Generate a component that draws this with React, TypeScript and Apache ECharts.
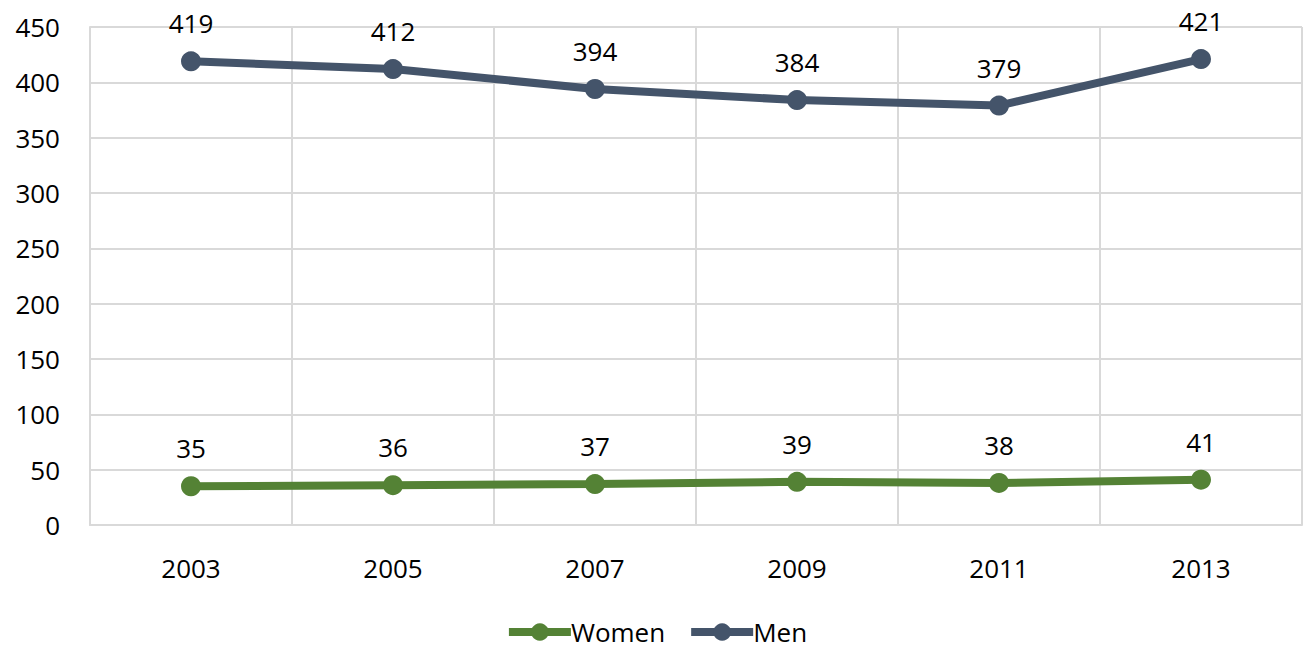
import React, { useEffect, useRef } from "react";
import * as echarts from "echarts";

const years = ["2003", "2005", "2007", "2009", "2011", "2013"];
const women = [35, 36, 37, 39, 38, 41];
const men = [419, 412, 394, 384, 379, 421];

const FONT = "Open Sans";
const GRID = "#d9d9d9";

export default function App() {
  const ref = useRef<HTMLDivElement>(null);
  useEffect(() => {
    const chart = echarts.init(ref.current!, null, { renderer: "svg" });
    const mkSeries = (name: string, data: number[], color: string) => ({
      name,
      type: "line",
      data,
      symbol: "circle",
      symbolSize: 20,
      lineStyle: { width: 8, color },
      itemStyle: { color },
      label: {
        show: true,
        position: "top",
        distance: 15,
        color: "#000",
        fontFamily: FONT,
        fontSize: 26,
        lineHeight: 26,
      },
    });
    chart.setOption({
      animation: false,
      grid: { left: 90, right: 10, top: 27, bottom: 127 },
      legend: {
        top: 614,
        left: "center",
        itemWidth: 62,
        itemHeight: 22,
        itemGap: 22,
        lineStyle: { width: 8 },
        textStyle: { fontFamily: FONT, fontSize: 26, color: "#000", padding: [0, 0, 0, -5] },
        data: ["Women", "Men"],
      },
      xAxis: {
        type: "category",
        data: years,
        boundaryGap: true,
        axisLine: { show: true, lineStyle: { color: GRID, width: 2 } },
        axisTick: { show: false },
        splitLine: { show: true, lineStyle: { color: GRID, width: 2 } },
        axisLabel: { margin: 30, color: "#000", fontFamily: FONT, fontSize: 26 },
      },
      yAxis: {
        type: "value",
        min: 0,
        max: 450,
        interval: 50,
        axisLine: { show: true, lineStyle: { color: GRID, width: 2 } },
        axisTick: { show: false },
        splitLine: { show: true, lineStyle: { color: GRID, width: 2 } },
        axisLabel: { margin: 30, color: "#000", fontFamily: FONT, fontSize: 26 },
      },
      series: [mkSeries("Women", women, "#548235"), mkSeries("Men", men, "#44546a")],
    });
    return () => chart.dispose();
  }, []);
  return <div ref={ref} style={{ width: 1312, height: 652, margin: -8 }} />;
}
